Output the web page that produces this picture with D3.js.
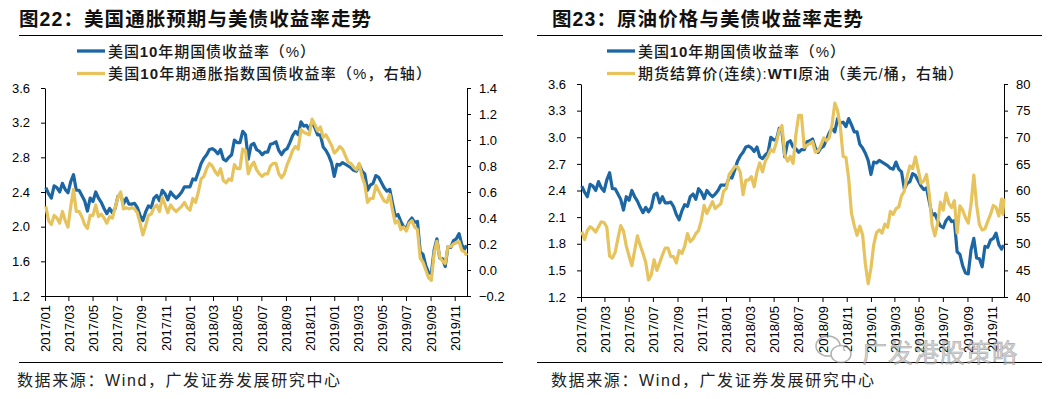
<!DOCTYPE html>
<html><head><meta charset="utf-8">
<script src="https://cdn.jsdelivr.net/npm/d3@7"></script>
<style>
body{margin:0;background:#fff;}
svg{display:block;}
text{font-family:"Liberation Sans",Arial,"Noto Sans CJK SC",sans-serif;}
</style></head><body>
<svg id="c" width="1053" height="399"></svg>
<script>
// ---- data (weekly samples) ----
const dates = [
"2017-01-03","2017-01-10","2017-01-17","2017-01-24","2017-01-31","2017-02-07","2017-02-14","2017-02-21","2017-02-28",
"2017-03-07","2017-03-14","2017-03-21","2017-03-28","2017-04-04","2017-04-11","2017-04-18","2017-04-25",
"2017-05-02","2017-05-09","2017-05-16","2017-05-23","2017-05-30","2017-06-06","2017-06-13","2017-06-20","2017-06-27",
"2017-07-04","2017-07-11","2017-07-18","2017-07-25","2017-08-01","2017-08-08","2017-08-15","2017-08-22","2017-08-29",
"2017-09-05","2017-09-12","2017-09-19","2017-09-26","2017-10-03","2017-10-10","2017-10-17","2017-10-24","2017-10-31",
"2017-11-07","2017-11-14","2017-11-21","2017-11-28","2017-12-05","2017-12-12","2017-12-19","2017-12-26",
"2018-01-02","2018-01-09","2018-01-16","2018-01-23","2018-01-30","2018-02-06","2018-02-13","2018-02-20","2018-02-27",
"2018-03-06","2018-03-13","2018-03-20","2018-03-27","2018-04-03","2018-04-10","2018-04-17","2018-04-24",
"2018-05-01","2018-05-08","2018-05-15","2018-05-22","2018-05-29","2018-06-05","2018-06-12","2018-06-19","2018-06-26",
"2018-07-03","2018-07-10","2018-07-17","2018-07-24","2018-07-31","2018-08-07","2018-08-14","2018-08-21","2018-08-28",
"2018-09-04","2018-09-11","2018-09-18","2018-09-25","2018-10-02","2018-10-09","2018-10-16","2018-10-23","2018-10-30",
"2018-11-06","2018-11-13","2018-11-20","2018-11-27","2018-12-04","2018-12-11","2018-12-18","2018-12-25",
"2019-01-01","2019-01-08","2019-01-15","2019-01-22","2019-01-29","2019-02-05","2019-02-12","2019-02-19","2019-02-26",
"2019-03-05","2019-03-12","2019-03-19","2019-03-26","2019-04-02","2019-04-09","2019-04-16","2019-04-23","2019-04-30",
"2019-05-07","2019-05-14","2019-05-21","2019-05-28","2019-06-04","2019-06-11","2019-06-18","2019-06-25",
"2019-07-02","2019-07-09","2019-07-16","2019-07-23","2019-07-30","2019-08-06","2019-08-13","2019-08-20","2019-08-27",
"2019-09-03","2019-09-10","2019-09-17","2019-09-24","2019-10-01","2019-10-08","2019-10-15","2019-10-22","2019-10-29",
"2019-11-05","2019-11-12","2019-11-19","2019-11-26","2019-11-29","2019-12-02"
];
// US 10Y Treasury yield (%)
const us10y = [
2.45,2.38,2.33,2.47,2.45, 2.40,2.50,2.43,2.39, 2.52,2.60,2.42,2.42, 2.36,2.30,2.18,2.33,
2.29,2.40,2.33,2.28,2.21, 2.15,2.21,2.16,2.21, 2.35,2.37,2.26,2.33, 2.26,2.26,2.27,2.22,2.13,
2.07,2.17,2.24,2.22, 2.33,2.36,2.30,2.42,2.38, 2.31,2.40,2.36,2.33, 2.36,2.40,2.46,2.46,
2.46,2.55,2.54,2.63,2.73, 2.79,2.83,2.89,2.90, 2.88,2.84,2.89,2.78, 2.76,2.80,2.83,3.00,
2.97,2.97,3.10,3.06,2.78, 2.94,2.96,2.89,2.87, 2.83,2.86,2.86,2.95,2.96, 2.98,2.88,2.83,2.88,
2.90,2.97,3.05,3.10, 3.06,3.21,3.16,3.17,3.12, 3.21,3.14,3.06,3.06, 2.92,2.88,2.82,2.74,
2.58,2.72,2.71,2.74,2.72, 2.70,2.68,2.65,2.64, 2.72,2.64,2.61,2.42, 2.48,2.50,2.59,2.57,2.51,
2.45,2.41,2.43,2.27, 2.12,2.14,2.06,2.00, 1.98,2.06,2.10,2.05,2.06, 1.71,1.68,1.55,1.47,
1.46,1.73,1.86,1.64, 1.63,1.54,1.77,1.76,1.84, 1.86,1.92,1.79,1.74, 1.77,1.78
];
// US 10Y TIPS yield (%, right axis)
const tips10y = [
0.49,0.38,0.35,0.42,0.40, 0.36,0.45,0.38,0.33, 0.49,0.62,0.45,0.45, 0.41,0.35,0.32,0.42,
0.42,0.50,0.41,0.43,0.40, 0.36,0.41,0.40,0.48, 0.56,0.60,0.47,0.48, 0.47,0.48,0.47,0.44,0.36,
0.27,0.34,0.42,0.43, 0.48,0.50,0.45,0.56,0.50, 0.44,0.50,0.47,0.45, 0.47,0.49,0.52,0.48,
0.46,0.55,0.52,0.60,0.70, 0.72,0.78,0.82,0.80, 0.76,0.73,0.78,0.69, 0.67,0.70,0.69,0.81,
0.78,0.78,0.93,0.92,0.74, 0.80,0.83,0.77,0.74, 0.72,0.74,0.74,0.80,0.82, 0.82,0.74,0.71,0.74,
0.81,0.86,0.92,0.95, 0.93,1.08,1.06,1.05,1.04, 1.16,1.12,1.07,1.10, 1.02,1.04,1.00,0.96,
0.90,0.92,0.95,0.93,0.88, 0.83,0.82,0.79,0.77, 0.82,0.72,0.66,0.52, 0.55,0.55,0.65,0.61,0.57,
0.53,0.52,0.58,0.46, 0.36,0.38,0.31,0.33, 0.30,0.36,0.38,0.33,0.31, 0.09,0.06,0.00,-0.06,
-0.08,0.13,0.22,0.10, 0.07,0.05,0.18,0.18,0.20, 0.21,0.22,0.15,0.14, 0.12,0.13
];
// WTI continuous futures settlement (USD/bbl, right axis)
const wti = [
52.3,50.8,52.5,53.2,52.8, 52.2,53.2,54.1,54.0, 53.1,47.7,47.3,48.4, 51.0,53.4,52.4,49.6,
47.7,45.9,48.7,51.5,49.7, 48.2,46.5,43.2,44.2, 47.0,45.0,46.4,47.9, 49.2,49.2,47.6,47.6,46.4,
48.7,48.2,49.5,51.9, 50.4,50.9,51.9,52.5,54.4, 57.2,55.7,56.8,57.9, 56.6,57.1,57.5,59.9,
60.4,63.0,63.7,64.5,64.5, 63.4,59.2,61.9,62.0, 62.6,60.7,63.5,65.2, 63.5,65.5,66.5,67.7,
67.3,69.1,71.3,72.2,66.7, 65.5,66.4,65.1,70.5, 74.1,74.1,68.1,68.5,68.8, 69.2,67.2,67.4,68.5,
69.9,69.3,69.9,72.3, 76.4,75.0,71.9,66.4,66.2, 62.2,55.7,53.4,51.6, 53.3,51.7,46.2,42.5,
45.4,49.8,52.1,52.6,52.0, 53.7,53.1,56.1,55.5, 56.6,56.9,59.0,59.9, 62.6,64.6,64.1,66.3,63.9,
61.4,61.8,63.0,59.1, 53.5,51.5,53.9,57.8, 56.3,59.5,57.6,56.8,58.1, 52.0,57.1,56.3,54.9,
53.9,57.4,62.9,57.3, 53.6,52.6,52.8,54.2,55.5, 57.2,56.8,55.2,58.4, 55.5,58.5
];
const xTickLabels = ["2017/01","2017/03","2017/05","2017/07","2017/09","2017/11","2018/01","2018/03","2018/05",
"2018/07","2018/09","2018/11","2019/01","2019/03","2019/05","2019/07","2019/09","2019/11"];
const leftTicks1 = [1.2,1.6,2.0,2.4,2.8,3.2,3.6];
const rightTicks1 = [-0.2,0.0,0.2,0.4,0.6,0.8,1.0,1.2,1.4];
const leftTicks2 = [1.2,1.5,1.8,2.1,2.4,2.7,3.0,3.3,3.6];
const rightTicks2 = [40,45,50,55,60,65,70,75,80];

const BLUE = "#1c66a3", GOLD = "#e6c35c";
const parseD = d3.timeParse("%Y-%m-%d"), parseM = d3.timeParse("%Y/%m");
const dts = dates.map(parseD);
const xTicks = xTickLabels.map(parseM);

const svg = d3.select("#c");

function panel(cfg) {
  const g = svg.append("g");
  const x = d3.scaleTime().domain([parseD("2017-01-01"), parseD("2019-12-02")]).range([cfg.x0, cfg.x1]);
  const yL = d3.scaleLinear().domain([1.2, 3.6]).range([cfg.yb, cfg.yt]);
  const yR = d3.scaleLinear().domain(cfg.rDom).range([cfg.yb, cfg.yt]);

  // title
  g.append("text").attr("x", cfg.titleX).attr("y", 26)
    .attr("font-size", 19.5).attr("font-weight", "bold")
    .attr("textLength", cfg.titleW).attr("lengthAdjust", "spacing")
    .attr("fill", "#111").text(cfg.title);
  g.append("line").attr("x1", cfg.ruleX0).attr("x2", cfg.ruleX1).attr("y1", 35.5).attr("y2", 35.5)
    .attr("stroke", "#000").attr("stroke-width", 1);
  g.append("line").attr("x1", cfg.ruleX0).attr("x2", cfg.ruleX1).attr("y1", 362.5).attr("y2", 362.5)
    .attr("stroke", "#000").attr("stroke-width", 1);
  g.append("text").attr("x", cfg.footX).attr("y", 386)
    .attr("font-size", 16).attr("fill", "#222")
    .attr("textLength", 323).attr("lengthAdjust", "spacing")
    .text("数据来源：Wind，广发证券发展研究中心");

  // legend
  cfg.legend.forEach((lg, i) => {
    const ly = 51 + i * 22.5;
    g.append("line").attr("x1", cfg.legX).attr("x2", cfg.legX + 28).attr("y1", ly).attr("y2", ly)
      .attr("stroke", lg.color).attr("stroke-width", 3.3);
    const t = g.append("text").attr("x", cfg.legX + 31).attr("y", ly + 5.5)
      .attr("font-size", 15).attr("fill", "#1a1a1a").attr("font-weight", 500)
      .attr("textLength", lg.w).attr("lengthAdjust", "spacing");
    lg.parts.forEach(p => t.append("tspan").attr("font-weight", p.b ? "bold" : null).text(p.t));
  });

  const styleAxis = (a) => {
    a.selectAll("path,line").attr("stroke", "#000").attr("stroke-width", 1);
    a.selectAll("text").attr("font-size", 13).attr("fill", "#000")
      .attr("font-family", "'Liberation Sans', Arial, sans-serif");
  };

  const ax1 = g.append("g").attr("transform", `translate(${cfg.x0},0)`)
    .call(d3.axisLeft(yL).tickValues(cfg.lTicks).tickSize(4).tickSizeOuter(0).tickPadding(11).tickFormat(d3.format(".1f")));
  styleAxis(ax1);
  const ax2 = g.append("g").attr("transform", `translate(${cfg.x1},0)`)
    .call(d3.axisRight(yR).tickValues(cfg.rTicks).tickSize(4).tickSizeOuter(0).tickPadding(8).tickFormat(cfg.rFmt));
  styleAxis(ax2);
  const ax3 = g.append("g").attr("transform", `translate(0,${cfg.yb})`)
    .call(d3.axisBottom(x).tickValues(xTicks).tickSize(5).tickSizeOuter(0).tickFormat(d3.timeFormat("%Y/%m")));
  styleAxis(ax3);
  ax3.selectAll("text").attr("transform", "rotate(-90)").attr("text-anchor", "end")
    .attr("x", -9).attr("y", 0).attr("dy", "0.36em");

  const rows = dts.map((d, i) => ({ d, a: us10y[i], b: cfg.rSeries[i] }));
  const lineA = d3.line().x(r => x(r.d)).y(r => yL(r.a));
  const lineB = d3.line().x(r => x(r.d)).y(r => yR(r.b));
  g.append("path").datum(rows).attr("d", lineA).attr("fill", "none").attr("stroke", BLUE)
    .attr("stroke-width", 3.2).attr("stroke-linejoin", "round");
  g.append("path").datum(rows).attr("d", lineB).attr("fill", "none").attr("stroke", GOLD)
    .attr("stroke-width", 3.2).attr("stroke-linejoin", "round");
  return g;
}

panel({
  x0: 45, x1: 467, yt: 88, yb: 296, rDom: [-0.2, 1.4], lTicks: leftTicks1, rTicks: rightTicks1,
  rFmt: d3.format(".1f"), rSeries: tips10y,
  title: "图22：美国通胀预期与美债收益率走势", titleX: 19, titleW: 352, ruleX0: 19, ruleX1: 503, footX: 17, legX: 77,
  legend: [
    { color: BLUE, w: 207, parts: [{ t: "美国" }, { t: "10", b: 1 }, { t: "年期国债收益率（%）" }] },
    { color: GOLD, w: 323, parts: [{ t: "美国" }, { t: "10", b: 1 }, { t: "年期通胀指数国债收益率（%，右轴）" }] }
  ]
});
panel({
  x0: 581, x1: 1004, yt: 84, yb: 297, rDom: [40, 80], lTicks: leftTicks2, rTicks: rightTicks2,
  rFmt: d3.format("d"), rSeries: wti,
  title: "图23：原油价格与美债收益率走势", titleX: 552, titleW: 311, ruleX0: 537, ruleX1: 1042, footX: 551, legX: 607,
  legend: [
    { color: BLUE, w: 207, parts: [{ t: "美国" }, { t: "10", b: 1 }, { t: "年期国债收益率（%）" }] },
    { color: GOLD, w: 325, parts: [{ t: "期货结算价(连续):" }, { t: "WTI", b: 1 }, { t: "原油（美元/桶，右轴）" }] }
  ]
});

// watermark
const wm = svg.append("g").attr("opacity", 0.65);
wm.append("ellipse").attr("cx", 828).attr("cy", 346).attr("rx", 12).attr("ry", 10)
  .attr("fill", "none").attr("stroke", "#888").attr("stroke-width", 1.5);
wm.append("ellipse").attr("cx", 841).attr("cy", 354).attr("rx", 10).attr("ry", 8.5)
  .attr("fill", "#fff").attr("stroke", "#888").attr("stroke-width", 1.5);
wm.append("text").attr("x", 862).attr("y", 362).attr("font-size", 25)
  .attr("textLength", 155).attr("lengthAdjust", "spacing")
  .attr("fill", "#c4c4c4").attr("stroke", "#777").attr("stroke-width", 0.6)
  .attr("font-family", "'Noto Sans CJK SC', sans-serif").text("广发港股策略");
</script>
</body></html>
